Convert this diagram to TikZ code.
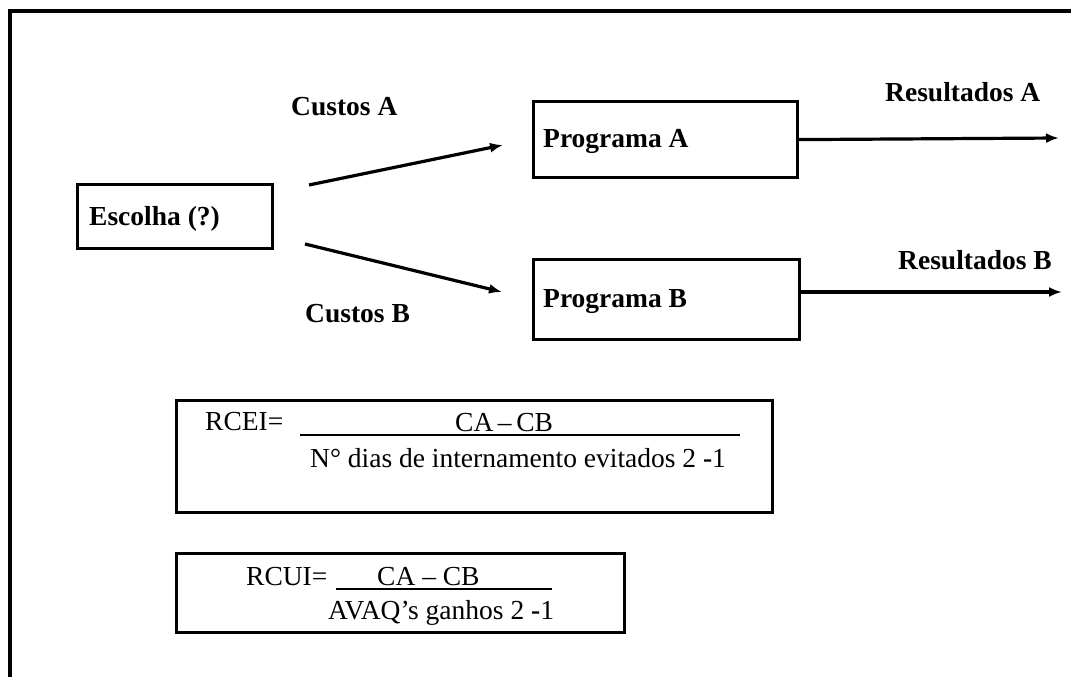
\documentclass[tikz,border=0pt]{standalone}
\usepackage{fontspec}
\setmainfont{Liberation Serif}
\usetikzlibrary{arrows.meta}
\begin{document}
\begin{tikzpicture}[x=1pt,y=-1pt,
  every node/.style={font=\fontsize{27.5}{33}\selectfont},
  lbl/.style={anchor=base west,inner sep=0pt,font=\fontsize{27.5}{33}\selectfont\bfseries},
  txt/.style={anchor=base west,inner sep=0pt},
  boxed/.style={draw,line width=3.2pt,anchor=north west,inner sep=0pt},
  conn/.style={line width=3.2pt,-{Latex[length=13pt,width=10pt]}},
  rulel/.style={line width=1.6pt}]
\useasboundingbox (0,0) rectangle (1071,677);
% outer frame (top and left visible)
\coordinate (ftr) at (1075,11);
\coordinate (ftl) at (10,11);
\coordinate (fbl) at (10,681);
\draw[line width=3.4pt] (ftr) -- (ftl) -- (fbl);
% boxes
\node[boxed,minimum width=195pt,minimum height=64pt] (esc) at (76,183) {};
\node[boxed,minimum width=264pt,minimum height=76pt] (pa) at (532,100) {};
\node[boxed,minimum width=266pt,minimum height=80pt] (pb) at (532,258) {};
\node[boxed,minimum width=596pt,minimum height=112pt] (rcei) at (175,399) {};
\node[boxed,minimum width=448pt,minimum height=79pt] (rcui) at (175,552) {};
% box texts
\node[lbl] (esct) at (89,225) {Escolha (?)};
\node[lbl] (pat) at (543,147) {Programa A};
\node[lbl] (pbt) at (543,307) {Programa B};
% labels
\node[lbl] (ca) at (291,115) {Custos A};
\node[lbl] (cb) at (305,322) {Custos B};
\node[lbl] (ra) at (885,102) {Resultados A};
\node[lbl] (rb) at (898,269) {Resultados B};
% arrows
\coordinate (a1s) at (309,185);
\coordinate (a1e) at (503,145);
\coordinate (a2s) at (305,244);
\coordinate (a2e) at (502,292);
\coordinate (rae) at (1059,138);
\coordinate (pbe) at (798,292);
\coordinate (rbe) at (1062,292);
\draw[conn] (pa.east) -- (rae);
\draw[conn] (a1s) -- (a1e);
\draw[conn] (a2s) -- (a2e);
\draw[conn] (pbe) -- (rbe);
% RCEI
\node[txt] (rceil) at (205,430) {RCEI=};
\coordinate (r1s) at (300,435);
\coordinate (r1e) at (740,435);
\draw[rulel] (r1s) -- (r1e);
\node[txt] (rcein) at (455,431) {CA\,–\,CB};
\node[txt] (rceid) at (310,467) {N° dias de internamento evitados 2 \textbf{-}1};
% RCUI
\node[txt] (rcuil) at (246,585) {RCUI=};
\coordinate (r2s) at (336,589);
\coordinate (r2e) at (552,589);
\draw[rulel] (r2s) -- (r2e);
\node[txt] (rcuin) at (377,585) {CA – CB};
\node[txt] (rcuid) at (328,619) {AVAQ’s ganhos 2 \textbf{-}1};
\end{tikzpicture}
\end{document}
